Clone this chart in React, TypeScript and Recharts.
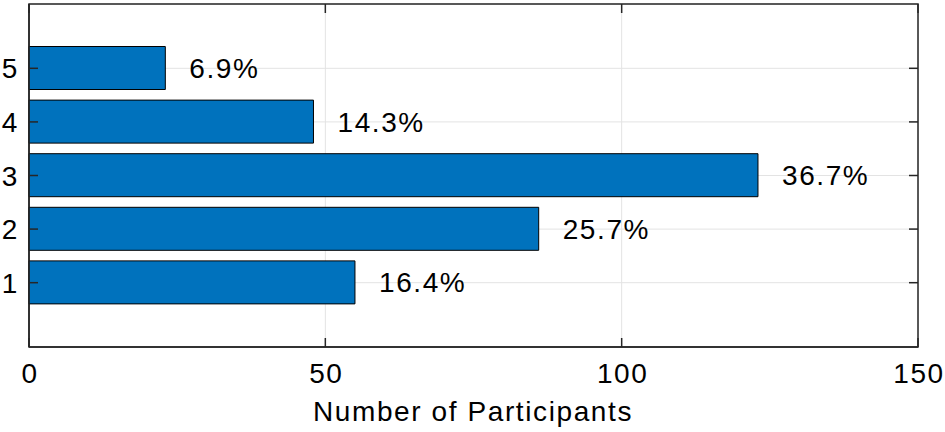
import { BarChart, Bar, XAxis, YAxis, CartesianGrid, LabelList } from 'recharts';

const categories = [1, 2, 3, 4, 5];
const participants = [55, 86, 123, 48, 23];
const percentLabels = ['16.4%', '25.7%', '36.7%', '14.3%', '6.9%'];
const xTicks = [0, 50, 100, 150];

const rows = categories.map((c, i) => ({
  rating: c,
  count: participants[i],
  pct: percentLabels[i],
}));

const FONT = '"Liberation Sans", Arial, Helvetica, sans-serif';
const AXIS = '#262626';
const TICK = 9;
// plot box (pixels) — set through margins / axis sizes below
const BOX = { left: 29, top: 4, right: 918, bottom: 347 };
const txt = { fontSize: 28, fill: '#000', fontFamily: FONT, letterSpacing: '1.6px' };

// MATLAB style: tick marks point into the box, on all four sides
function BottomTick(p: any) {
  return (
    <g>
      <line x1={p.x} y1={p.y} x2={p.x} y2={p.y - TICK} stroke={AXIS} strokeWidth={1.5} />
      <line x1={p.x} y1={BOX.top} x2={p.x} y2={BOX.top + TICK} stroke={AXIS} strokeWidth={1.5} />
      <text x={p.x + 1} y={p.y + 36} textAnchor="middle" style={txt}>{p.payload.value}</text>
    </g>
  );
}

function LeftTick(p: any) {
  return (
    <g>
      <line x1={p.x} y1={p.y} x2={p.x + TICK} y2={p.y} stroke={AXIS} strokeWidth={1.5} />
      <line x1={BOX.right} y1={p.y} x2={BOX.right - TICK} y2={p.y} stroke={AXIS} strokeWidth={1.5} />
      <text x={p.x - 10} y={p.y + 10} textAnchor="end" style={txt}>{p.payload.value}</text>
    </g>
  );
}

function PctLabel(p: any) {
  return (
    <text x={p.x + p.width + 24} y={p.y + p.height / 2 + 10} style={txt}>{p.value}</text>
  );
}

const axisLine = { stroke: AXIS, strokeWidth: 1.5 };

export default function App() {
  return (
    <div style={{ position: 'absolute', left: 0, top: 0, width: 945, height: 432, background: '#fff' }}>
      <BarChart
        width={945}
        height={432}
        data={rows}
        layout="vertical"
        margin={{ top: BOX.top, right: 945 - BOX.right, bottom: 0, left: 0 }}
      >
        <CartesianGrid stroke="#e3e3e3" strokeWidth={1} />
        <XAxis
          type="number"
          domain={[0, 150]}
          ticks={xTicks}
          height={432 - BOX.bottom}
          tickSize={0}
          tickMargin={0}
          tickLine={false}
          tick={<BottomTick />}
          axisLine={axisLine}
        />
        <YAxis
          type="number"
          dataKey="rating"
          domain={[-0.2, 6.2]}
          ticks={categories}
          reversed
          width={BOX.left}
          tickSize={0}
          tickMargin={0}
          tickLine={false}
          tick={<LeftTick />}
          axisLine={axisLine}
        />
        <Bar
          dataKey="count"
          barSize={43}
          fill="#0072BD"
          stroke="#000"
          strokeWidth={1}
          isAnimationActive={false}
        >
          <LabelList dataKey="pct" content={<PctLabel />} />
        </Bar>
        <rect
          x={BOX.left}
          y={BOX.top}
          width={BOX.right - BOX.left}
          height={BOX.bottom - BOX.top}
          fill="none"
          stroke={AXIS}
          strokeWidth={1.5}
        />
        <text x={473} y={421} textAnchor="middle" style={txt}>Number of Participants</text>
      </BarChart>
    </div>
  );
}
